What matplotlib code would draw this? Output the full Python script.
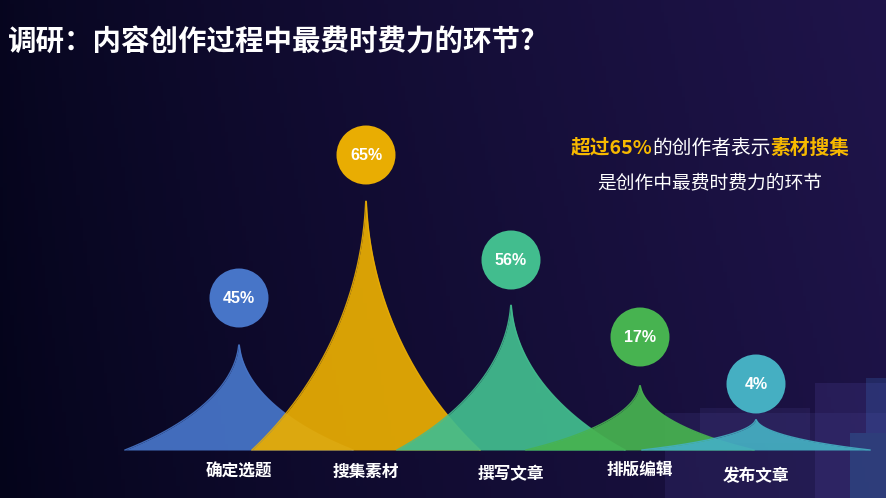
import numpy as np
import matplotlib
matplotlib.use("Agg")
import matplotlib.pyplot as plt
from matplotlib.patches import Circle, Rectangle

plt.rcParams['font.family'] = ['Noto Sans CJK SC', 'DejaVu Sans']

# data
steps = ['确定选题', '搜集素材', '撰写文章', '排版编辑', '发布文章']
shares = [45, 65, 56, 17, 4]
spike_height = [111, 263, 153, 68, 32]    # drawn peak heights (px), not proportional to the shares
bubble_height = [152, 295, 190, 113, 66]  # bubble centres above the baseline (px)
colors = ['#4775C8', '#E9AD02', '#42BD8E', '#47B350', '#45AFC2']
centers = [239, 366, 511, 640, 756]
label_y = [472, 472, 474, 470, 476]

W, H = 886, 498
base = 48          # baseline above the bottom edge
half_w = 114


def spike(s):
    # concave arc: s = 0 at the foot, s = 1 at the tip
    a = 2.2
    top = np.sqrt(1 - (a / (1 + a)) ** 2)
    return 1 - np.sqrt(1 - ((s + a) / (1 + a)) ** 2) / top


fig = plt.figure(figsize=(W / 100, H / 100), dpi=100)
ax = fig.add_axes([0, 0, 1, 1])
ax.set_xlim(0, W)
ax.set_ylim(0, H)
ax.axis('off')

# background: dark navy to purple gradient
gx = np.linspace(0, 1, 256)
gy = np.linspace(0, 1, 128)
X, Y = np.meshgrid(gx, gy)
left = np.array([0x04, 0x04, 0x1A]) / 255
right = np.array([0x1F, 0x14, 0x4A]) / 255
t = np.clip(X ** 0.8 * 0.9 + (1 - Y) * 0.1, 0, 1)[..., None]
img = left * (1 - t) + right * t
ax.imshow(img, extent=[0, W, 0, H], origin='upper', aspect='auto', zorder=0)

# faint pixel-block decoration in the lower right corner
for (x0, y0, w, h, col, a) in [(665, 0, 221, 85, '#3b3378', 0.3),
                               (700, 55, 110, 35, '#4a3f8c', 0.2),
                               (815, 0, 71, 115, '#4b3f96', 0.25),
                               (850, 0, 36, 65, '#2f78b0', 0.3),
                               (866, 65, 20, 55, '#3a6fc0', 0.25)]:
    ax.add_patch(Rectangle((x0, y0), w, h, color=col, alpha=a, lw=0, zorder=1))

# spikes
for i, (c, h, col) in enumerate(zip(centers, spike_height, colors)):
    xs = np.linspace(c - half_w, c + half_w, 400)
    ys = base + h * spike(1 - np.abs(xs - c) / half_w)
    ax.fill_between(xs, base, ys, color=col, lw=0, alpha=0.93, zorder=2 + i)
    ax.plot(xs, ys, color=col, lw=1.0, alpha=0.9, zorder=2 + i)

# bubbles with percentages
for c, bh, col, s in zip(centers, bubble_height, colors, shares):
    cy = base + bh
    ax.add_patch(Circle((c, cy), 29.5, color=col, lw=0, zorder=10))
    ax.text(c, cy, f'{s}%', color='white', fontsize=11.5, fontweight='bold',
            family=['Liberation Sans', 'DejaVu Sans'], ha='center', va='center', zorder=11)

# category labels
for c, ly, s in zip(centers, label_y, steps):
    ax.text(c, H - ly, s, color='white', fontsize=12, fontweight='bold',
            ha='center', va='center', zorder=11)

# title
ax.text(8, H - 42, '调研：内容创作过程中最费时费力的环节?', color='white',
        fontsize=20.5, fontweight='bold', ha='left', va='center', zorder=11)

# annotation line 1 (mixed colours)
fig.canvas.draw()
renderer = fig.canvas.get_renderer()
parts = [('超过65%', '#F7B900', 'bold'), ('的创作者表示', 'white', 'normal'),
         ('素材搜集', '#F7B900', 'bold')]
x = 571
for txt, col, wt in parts:
    tx = ax.text(x, H - 148, txt, color=col, fontsize=14.2, fontweight=wt,
                 ha='left', va='center', zorder=11)
    bb = tx.get_window_extent(renderer)
    x = ax.transData.inverted().transform((bb.x1, bb.y1))[0] - 0.5

ax.text(710, H - 183, '是创作中最费时费力的环节', color='white', fontsize=13.5,
        ha='center', va='center', zorder=11)

fig.savefig('out.png', dpi=100)
